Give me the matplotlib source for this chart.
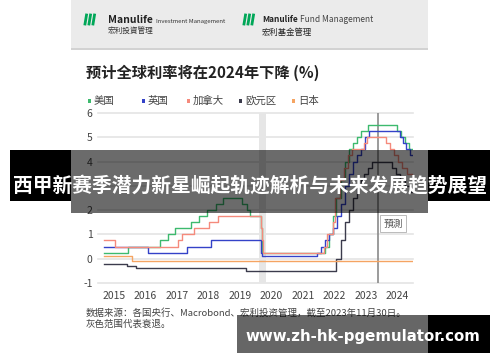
import matplotlib
matplotlib.use("Agg")
import matplotlib.pyplot as plt
from matplotlib.patches import Rectangle
from matplotlib.lines import Line2D

plt.rcParams['font.family'] = ['Noto Sans CJK SC', 'DejaVu Sans']

# policy rates (%), step changes; decimal years
us_dates = [2015.2, 2015.96, 2016.96, 2017.21, 2017.46, 2017.96, 2018.22, 2018.46, 2018.74, 2018.97,
            2019.58, 2019.72, 2019.83, 2020.17, 2020.21, 2022.21, 2022.34, 2022.46, 2022.57, 2022.72,
            2022.84, 2022.96, 2023.09, 2023.22, 2023.34, 2023.57, 2024.5, 2024.62, 2024.75, 2024.87, 2025.0]
us_rates = [0.25, 0.5, 0.75, 1.0, 1.25, 1.5, 1.75, 2.0, 2.25, 2.5,
            2.25, 2.0, 1.75, 1.25, 0.25, 0.5, 1.0, 1.75, 2.5, 3.25,
            4.0, 4.5, 4.75, 5.0, 5.25, 5.5, 5.25, 5.0, 4.75, 4.5, 4.5]

uk_dates = [2015.2, 2016.6, 2017.84, 2018.59, 2020.17, 2020.22, 2021.96, 2022.09, 2022.21, 2022.34,
            2022.46, 2022.59, 2022.72, 2022.84, 2022.96, 2023.09, 2023.22, 2023.34, 2023.47, 2023.59,
            2024.58, 2024.68, 2024.78, 2024.9, 2025.0]
uk_rates = [0.5, 0.25, 0.5, 0.75, 0.25, 0.1, 0.25, 0.5, 0.75, 1.0,
            1.25, 1.75, 2.25, 3.0, 3.5, 4.0, 4.25, 4.5, 5.0, 5.25,
            5.0, 4.75, 4.5, 4.25, 4.25]

ca_dates = [2015.2, 2015.54, 2017.53, 2017.68, 2018.05, 2018.53, 2018.82, 2020.17, 2020.21, 2020.24,
            2022.17, 2022.28, 2022.45, 2022.53, 2022.69, 2022.82, 2022.94, 2023.07, 2023.45, 2023.53,
            2024.15, 2024.28, 2024.4, 2024.52, 2024.65, 2024.8, 2025.0]
ca_rates = [0.75, 0.5, 0.75, 1.0, 1.25, 1.5, 1.75, 1.25, 0.75, 0.25,
            0.5, 1.0, 1.5, 2.5, 3.25, 3.75, 4.25, 4.5, 4.75, 5.0,
            4.75, 4.5, 4.25, 4.0, 3.75, 3.5, 3.5]

eu_dates = [2015.2, 2015.93, 2016.2, 2019.71, 2022.55, 2022.7, 2022.85, 2022.96, 2023.1, 2023.21,
            2023.35, 2023.46, 2023.57, 2023.71, 2024.33, 2024.45, 2024.6, 2024.75, 2024.9, 2025.0]
eu_rates = [-0.2, -0.3, -0.4, -0.5, 0.0, 0.75, 1.5, 2.0, 2.5, 3.0,
            3.25, 3.5, 3.75, 4.0, 3.75, 3.5, 3.25, 3.0, 2.75, 2.75]

jp_dates = [2015.2, 2016.08, 2025.0]
jp_rates = [0.1, -0.1, -0.1]

series = [
    ('美国', us_dates, us_rates, '#3dba6e'),
    ('英国', uk_dates, uk_rates, '#3442c8'),
    ('加拿大', ca_dates, ca_rates, '#f58a7c'),
    ('欧元区', eu_dates, eu_rates, '#3b3b4c'),
    ('日本', jp_dates, jp_rates, '#f5a462'),
]
years = list(range(2015, 2025))
y_ticks = list(range(-1, 7))
y_labels = ['-1', '0', '1', '2', '', '4', '5', '6']  # "3" sits under the banner text
recession = (2020.1, 2020.32)
forecast_start = 2023.88

W, H = 500, 362


def fx(x):
    return x / W


def fy(y):
    return 1 - y / H


fig = plt.figure(figsize=(5, 3.62), dpi=100)
fig.patch.set_facecolor('white')

# header band with logos
fig.patches.append(Rectangle((fx(71), fy(48)), fx(357), 48 / H, transform=fig.transFigure,
                             facecolor='#ebebeb', edgecolor='none', zorder=0))
fig.patches.append(Rectangle((fx(71), fy(50)), fx(357), 2 / H, transform=fig.transFigure,
                             facecolor='#d2d2d2', edgecolor='none', zorder=0))
for x0 in (85, 244):
    for k in range(3):
        fig.add_artist(Line2D([fx(x0 + 4 * k), fx(x0 + 4 * k + 1.5)], [fy(24), fy(15)],
                              transform=fig.transFigure, color='#00a758', lw=2.0))
fig.text(fx(108), fy(20), 'Manulife', fontsize=7.5, fontweight='bold', color='#222', va='center')
fig.text(fx(156), fy(21), 'Investment Management', fontsize=4.3, color='#333', va='center')
fig.text(fx(108), fy(32), '宏利投資管理', fontsize=5.5, color='#333', va='center')
fig.text(fx(262), fy(20), 'Manulife', fontsize=6.0, fontweight='bold', color='#222', va='center')
fig.text(fx(300), fy(20), 'Fund Management', fontsize=6.0, color='#444', va='center')
fig.text(fx(262), fy(32), '宏利基金管理', fontsize=6.0, color='#222', va='center')

# title and legend
fig.text(fx(86), fy(73), '预计全球利率将在2024年下降 (%)', fontsize=11, fontweight='bold',
         color='#222', va='center')
legend_x = [89, 143, 188, 240, 293]
for (name, _, _, col), lx in zip(series, legend_x):
    fig.patches.append(Rectangle((fx(lx - 1.5), fy(102.5)), 3 / W, 3 / H, transform=fig.transFigure,
                                 facecolor=col, edgecolor='none'))
    fig.text(fx(lx + 5), fy(101), name, fontsize=7.5, color='#444', va='center')

# chart
ax = fig.add_axes([fx(98), fy(283), 315 / W, 170 / H])
ax.set_xlim(2015, 2025)
ax.set_ylim(-1, 6)
for s in ax.spines.values():
    s.set_visible(False)
ax.set_yticks(y_ticks)
ax.set_yticklabels(y_labels)
ax.set_xticks([y + 0.5 for y in years])
ax.set_xticklabels([str(y) for y in years])
ax.tick_params(length=0, labelsize=7.5, colors='#444', pad=4)
ax.tick_params(axis='x', pad=6)
for v in y_ticks:
    ax.axhline(v, color='#e4e4e4', lw=1.2, zorder=0, clip_on=False)
ax.axvspan(*recession, color='#e6e6e6', lw=0, zorder=0)
ax.axvline(forecast_start, color='#8a8a8a', lw=1.2, zorder=1)

for name, d, r, col in series:
    ax.plot(d, r, drawstyle='steps-post', color=col, lw=1.0, zorder=2)

ax.text(2024.37, 1.45, '預測', fontsize=7, color='#555', ha='center', va='center',
        bbox=dict(boxstyle='square,pad=0.35', facecolor='white', edgecolor='#b0b0b0', lw=0.6))

# footnote
fig.text(fx(86), fy(313), '数据来源：各国央行、Macrobond、宏利投资管理，截至2023年11月30日。',
         fontsize=6.8, color='#444', va='center')
fig.text(fx(86), fy(324), '灰色范围代表衰退。', fontsize=6.8, color='#444', va='center')

# overlay banner
fig.patches.append(Rectangle((fx(10), fy(201)), 61 / W, 51 / H, transform=fig.transFigure,
                             facecolor='black', edgecolor='none', zorder=5))
fig.patches.append(Rectangle((fx(428), fy(201)), 62 / W, 51 / H, transform=fig.transFigure,
                             facecolor='black', edgecolor='none', zorder=5))
fig.patches.append(Rectangle((fx(71), fy(213)), 357 / W, 63 / H, transform=fig.transFigure,
                             facecolor='black', alpha=0.58, edgecolor='none', zorder=5))
fig.text(fx(250), fy(186), '西甲新赛季潜力新星崛起轨迹解析与未来发展趋势展望', fontsize=14.2,
         fontweight='bold', color='white', ha='center', va='center', zorder=6)

# watermark
fig.patches.append(Rectangle((fx(237), fy(353)), 191 / W, 38 / H, transform=fig.transFigure,
                             facecolor='black', alpha=0.6, edgecolor='none', zorder=5))
fig.patches.append(Rectangle((fx(428), fy(353)), 62 / W, 38 / H, transform=fig.transFigure,
                             facecolor='black', edgecolor='none', zorder=5))
fig.text(fx(363), fy(336), 'www.zh-hk-pgemulator.com', fontsize=10.8, fontweight='bold',
         family=['DejaVu Sans'], color='white', ha='center', va='center', zorder=6)

fig.savefig('out.png', dpi=100)
